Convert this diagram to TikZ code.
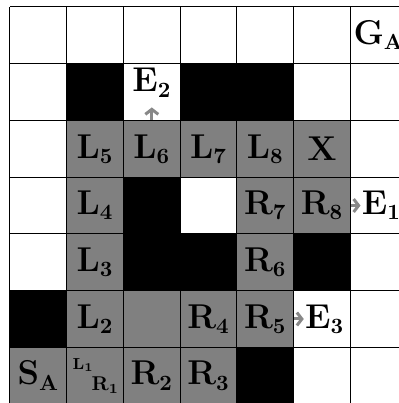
\documentclass[tikz,border=0pt]{standalone}
\usetikzlibrary{arrows.meta,positioning}
\definecolor{trailgray}{RGB}{128,128,128}
\definecolor{arrowgray}{RGB}{136,136,136}
\begin{document}
\begin{tikzpicture}[line join=round,
  every node/.style={font=\fontsize{16}{19}\selectfont},
  trail/.style={draw,fill=trailgray,line width=.5pt,
   minimum size=1cm,inner sep=0pt},
  elab/.style={inner xsep=.5pt,inner ysep=5pt},
  exitarrow/.style={-{Straight Barb[length=2.5pt,width=6.5pt]},
   line width=1.5pt,arrowgray}]
 \useasboundingbox (-0.176,0.123) rectangle (6.84,-6.981);
 % open floor
 \draw[line width=.5pt] (0,-7) grid (7,0);
 % walls
 \foreach \col/\row in {1/1,3/1,4/1,2/3,2/4,3/4,5/4,0/5,4/6}
  \fill[draw=black,line width=.5pt] (\col,-\row) rectangle ++(1,-1);
 % visited cells
 \foreach \nm/\col/\row/\lab in {SA/0/6/S_A,LR1/1/6/,R2/2/6/R_2,R3/3/6/R_3,
   L2/1/5/L_2,M2/2/5/,R4/3/5/R_4,R5/4/5/R_5,L3/1/4/L_3,R6/4/4/R_6,
   L4/1/3/L_4,R7/4/3/R_7,R8/5/3/R_8,L5/1/2/L_5,L6/2/2/L_6,
   L7/3/2/L_7,L8/4/2/L_8,X/5/2/X}
  \node[trail] (\nm) at (\col+.5,-\row-.5) {$\mathbf{\lab}$};
 \node[font=\fontsize{8}{9}\selectfont] (L1)
  at ([shift={(-0.21,0.19)}]LR1.center) {$\mathbf{L_1}$};
 \node[font=\fontsize{10}{12}\selectfont] (R1)
  at ([shift={(0.18,-0.17)}]LR1.center) {$\mathbf{R_1}$};
 \node (GA) at (6.5,-0.5) {$\mathbf{G_A}$};
 % exits
 \node[elab,above=0.22cm of L6] (E2) {$\mathbf{E_2}$};
 \node[elab,right=0.17cm of R8] (E1) {$\mathbf{E_1}$};
 \node[elab,right=0.17cm of R5] (E3) {$\mathbf{E_3}$};
 \draw[exitarrow] (L6) -- (E2);
 \draw[exitarrow] (R8) -- (E1);
 \draw[exitarrow] (R5) -- (E3);
\end{tikzpicture}
\end{document}
